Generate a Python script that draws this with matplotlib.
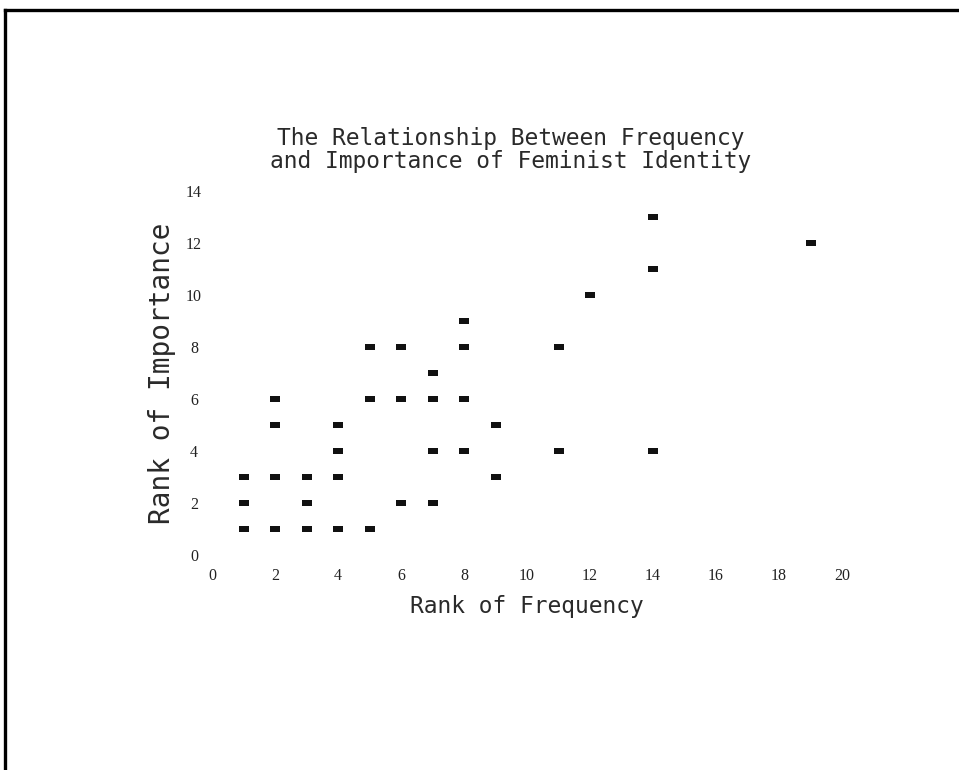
import matplotlib.pyplot as plt
from matplotlib.path import Path
from matplotlib.lines import Line2D

# Rank data
freq_rank = [1, 1, 1,
             2, 2, 2, 2,
             3, 3, 3,
             4, 4, 4, 4,
             5, 5, 5,
             6, 6, 6,
             7, 7, 7, 7,
             8, 8, 8, 8,
             9, 9,
             11, 11,
             12,
             14, 14, 14,
             19]
imp_rank = [1, 2, 3,
            1, 3, 5, 6,
            1, 2, 3,
            1, 3, 4, 5,
            1, 6, 8,
            2, 6, 8,
            2, 4, 6, 7,
            4, 6, 8, 9,
            3, 5,
            4, 8,
            10,
            4, 11, 13,
            12]

x_ticks = [0, 2, 4, 6, 8, 10, 12, 14, 16, 18, 20]
y_ticks = [0, 2, 4, 6, 8, 10, 12, 14]

title = "The Relationship Between Frequency\nand Importance of Feminist Identity"

# flat rectangle marker like the plotter blocks
rect = Path([(-1, -0.6), (1, -0.6), (1, 0.6), (-1, 0.6), (-1, -0.6)],
            [Path.MOVETO, Path.LINETO, Path.LINETO, Path.LINETO, Path.CLOSEPOLY])

fig = plt.figure(figsize=(9.59, 7.70), dpi=100)
ax = fig.add_axes([212 / 959, 215 / 770, 630 / 959, 364 / 770])

ax.plot(freq_rank, imp_rank, linestyle="none", marker=rect, markersize=7.8,
        color="#111111", markeredgewidth=0)

ax.set_xlim(0, 20)
ax.set_ylim(0, 14)
ax.set_xticks(x_ticks)
ax.set_yticks(y_ticks)
for s in ax.spines.values():
    s.set_visible(False)
ax.tick_params(length=0, labelsize=11.5, colors="#222222")
ax.tick_params(axis="x", pad=9)
ax.tick_params(axis="y", pad=13)
for lab in ax.get_xticklabels() + ax.get_yticklabels():
    lab.set_family("Liberation Serif")
for lab in ax.get_yticklabels():
    lab.set_horizontalalignment("center")

mono = "DejaVu Sans Mono"
ax.set_xlabel("Rank of Frequency", family=mono, fontsize=16.5, color="#2a2a2a",
              labelpad=8)
ax.set_ylabel("Rank of Importance", family=mono, fontsize=20, color="#2a2a2a",
              labelpad=7)
fig.text(511 / 959, 1 - 150 / 770, title, family=mono, fontsize=16.5,
         color="#2a2a2a", ha="center", va="center", linespacing=0.95)

# scanned page border (left and top)
fig.add_artist(Line2D([4.5 / 959, 4.5 / 959], [0, 1 - 9.5 / 770],
                      transform=fig.transFigure, color="black", lw=2.4))
fig.add_artist(Line2D([4.5 / 959, 1], [1 - 9.5 / 770, 1 - 9.5 / 770],
                      transform=fig.transFigure, color="black", lw=2.4))

fig.savefig("out.png", dpi=100)
